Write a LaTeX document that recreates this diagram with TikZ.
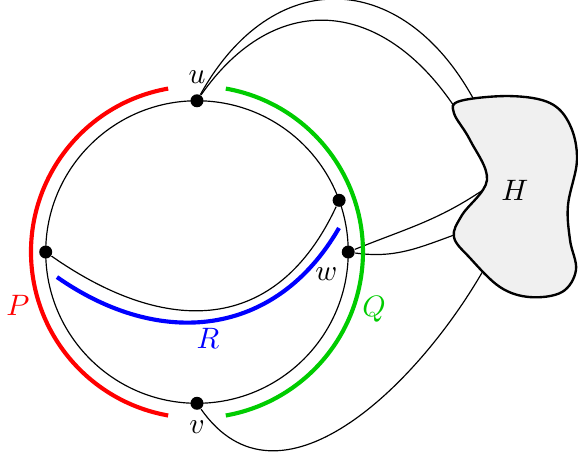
\documentclass[tikz,border=0pt]{standalone}
\usepackage{amssymb}
\usepackage{tikz}

\definecolor{qgreen}{RGB}{0,204,0}
\definecolor{hgray}{gray}{0.94}

\begin{document}
\begin{tikzpicture}[vtx/.style={circle,fill,inner sep=0pt,minimum size=4.4pt},
    walk/.style={line width=1.4pt}]
  \useasboundingbox (-2.344,-2.416) rectangle (4.534,2.999);
  % the cycle
  \node[vtx,label=above:$u$] (u) at (90:1.8) {};
  \node[vtx,label=below:$v$] (v) at (270:1.8) {};
  \node[vtx] (a) at (180:1.8) {};
  \node[vtx] (x) at (20:1.8) {};
  \node[vtx,label={[xshift=1.5pt]below left:$w$}] (w) at (0:1.8) {};
  \draw (u.center) arc[start angle=90, end angle=-270, radius=1.8];
  \draw (a) to[out=-35, in=-115, looseness=1.25] (x);
  % attachments on H
  \coordinate (h1) at (3.284,1.833);
  \coordinate (h2) at (3.058,1.737);
  \coordinate (h3) at (3.403,0.738);
  \coordinate (h4) at (3.058,0.202);
  \coordinate (h5) at (3.403,-0.226);
  \draw (u) to[out=61, in=119, looseness=1.39] (h1);
  \draw (u) to[out=55, in=124, looseness=1.31] (h2);
  \draw (w) to[out=22, in=-146] (h3);
  \draw (w) to[out=-8, in=-160] (h4);
  \draw (v) to[out=-55, in=240, looseness=1.1] (h5);
  % the blob H
  \draw[thick, fill=hgray] plot[smooth cycle, tension=0.6] coordinates {
    (3.130,1.797) (3.725,1.856) (4.201,1.773) (4.439,1.511) (4.522,1.095)
    (4.415,0.559) (4.439,0.143) (4.510,-0.214) (4.344,-0.476) (3.963,-0.536)
    (3.606,-0.417) (3.249,-0.071) (3.058,0.179) (3.154,0.440) (3.451,0.857)
    (3.249,1.333) (3.058,1.654)};
  \node (H) at (3.784,0.738) {$H$};
  % the paths P, Q, R
  \draw[red, walk] (100:1.975) arc[start angle=100, end angle=260, radius=1.975];
  \draw[qgreen, walk] (80:1.975) arc[start angle=80, end angle=-80, radius=1.975];
  \coordinate (r1) at (-1.666,-0.298);
  \coordinate (r2) at (1.690,0.286);
  \draw[blue, walk] (r1) to[out=-35, in=-120, looseness=1.13] (r2);
  \node[red] (P) at (-2.130,-0.631) {$P$};
  \node[qgreen] (Q) at (2.106,-0.678) {$Q$};
  \node[blue] (R) at (0.131,-1.023) {$R$};
\end{tikzpicture}
\end{document}
